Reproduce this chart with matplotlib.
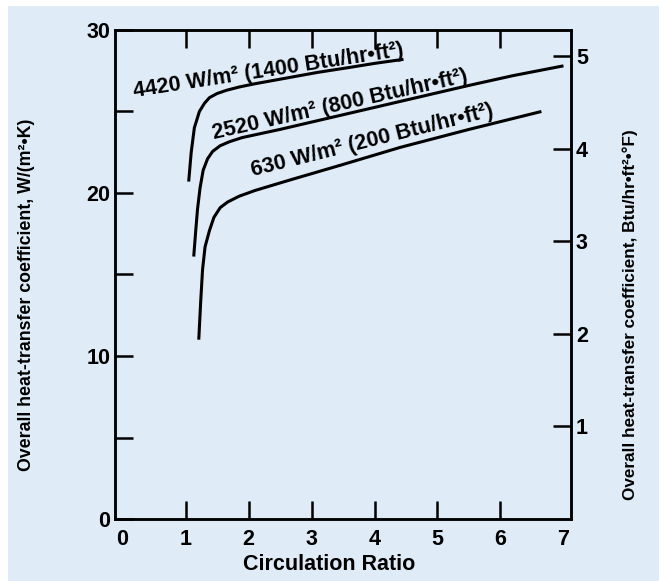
import matplotlib.pyplot as plt
from matplotlib.patches import Rectangle

# Circulation ratio vs overall heat-transfer coefficient, W/(m2 K)
x_4420 = [1.05, 1.09, 1.14, 1.22, 1.30, 1.38, 1.50, 1.65, 1.85, 2.10, 2.60, 3.10, 3.60, 4.00, 4.46]
y_4420 = [20.7, 22.5, 24.0, 25.0, 25.5, 25.85, 26.1, 26.3, 26.5, 26.7, 27.05, 27.4, 27.7, 27.95, 28.2]

x_2520 = [1.13, 1.16, 1.19, 1.23, 1.28, 1.35, 1.43, 1.55, 1.70, 1.90, 2.20, 2.50, 3.50, 4.50, 5.50, 6.20, 7.00]
y_2520 = [16.1, 17.6, 19.0, 20.3, 21.4, 22.1, 22.55, 22.9, 23.15, 23.4, 23.65, 23.9, 24.8, 25.7, 26.6, 27.2, 27.8]

x_630 = [1.21, 1.24, 1.27, 1.31, 1.38, 1.45, 1.55, 1.67, 1.85, 2.10, 2.66, 3.50, 4.41, 5.50, 6.65]
y_630 = [11.0, 13.3, 15.3, 16.7, 17.7, 18.5, 19.1, 19.45, 19.8, 20.15, 20.8, 21.75, 22.8, 23.9, 25.0]

curve_labels = ["4420 W/m\u00b2 (1400 Btu/hr\u2022ft\u00b2)",
                "2520 W/m\u00b2 (800 Btu/hr\u2022ft\u00b2)",
                "630 W/m\u00b2 (200 Btu/hr\u2022ft\u00b2)"]

x_ticks = [0, 1, 2, 3, 4, 5, 6, 7]
y_ticks_si = [0, 5, 10, 15, 20, 25, 30]
y_ticks_si_labels = ["0", "", "10", "", "20", "", "30"]
y_ticks_btu = [1, 2, 3, 4, 5]
W_PER_BTU = 5.678

bg = "#dfecf8"
plt.rcParams["font.family"] = ["Liberation Sans", "DejaVu Sans"]
plt.rcParams["font.weight"] = "bold"

fig = plt.figure(figsize=(6.59, 5.81), dpi=100)
fig.patches.append(Rectangle((8 / 659, 0), 1, 1 - 6 / 581, transform=fig.transFigure,
                             facecolor=bg, edgecolor="none", zorder=-10))
ax = fig.add_axes([0.1745, 0.1067, 0.6920, 0.8417])
ax.set_facecolor("none")

for xs, ys in [(x_4420, y_4420), (x_2520, y_2520), (x_630, y_630)]:
    ax.plot(xs, ys, color="black", linewidth=2.2, solid_capstyle="butt")

ax.set_xlim(-0.12, 7.12)
ax.set_ylim(0, 30)
ax.set_xticks(x_ticks)
ax.set_xticklabels([str(t) for t in x_ticks], fontsize=15.5, fontweight="bold")
ax.set_yticks(y_ticks_si)
ax.set_yticklabels(y_ticks_si_labels, fontsize=15.5, fontweight="bold")
ax.tick_params(axis="x", direction="in", length=13, width=1.8, top=True, pad=7)
ax.tick_params(axis="y", direction="in", length=13, width=1.8, pad=3.5)
# 0 and 7 sit on the spines, hide their tick marks
for i in (0, len(x_ticks) - 1):
    ax.xaxis.get_major_ticks()[i].tick1line.set_visible(False)
    ax.xaxis.get_major_ticks()[i].tick2line.set_visible(False)
ax.yaxis.get_major_ticks()[0].tick1line.set_visible(False)
ax.yaxis.get_major_ticks()[-1].tick1line.set_visible(False)
for s in ax.spines.values():
    s.set_linewidth(1.8)

ax.set_xlabel("Circulation Ratio", fontsize=15.5, fontweight="bold")
ax.xaxis.set_label_coords(0.47, -0.072)
ax.set_ylabel("Overall heat-transfer coefficient, W/(m\u00b2\u2022K)", fontsize=12.8, fontweight="bold")
ax.yaxis.set_label_coords(-0.175, 0.458)

ax2 = ax.twinx()
ax2.set_ylim(0, 30 / W_PER_BTU)
ax2.set_yticks(y_ticks_btu)
ax2.set_yticklabels([str(t) for t in y_ticks_btu], fontsize=15.5, fontweight="bold")
ax2.tick_params(axis="y", direction="in", length=13, width=1.8, pad=3.5)
for s in ax2.spines.values():
    s.set_linewidth(1.8)
ax2.set_ylabel("Overall heat-transfer coefficient, Btu/hr\u2022ft\u00b2\u2022\u00b0F)", fontsize=12.3,
               fontweight="bold")
ax2.yaxis.set_label_coords(1.112, 0.417)

# curve labels
ax.text(2.32, 27.5, curve_labels[0], rotation=8.7, rotation_mode="anchor", ha="center", va="center",
        fontsize=15.5, fontweight="bold")
ax.text(3.46, 25.4, curve_labels[1], rotation=12.7, rotation_mode="anchor", ha="center", va="center",
        fontsize=15.5, fontweight="bold")
ax.text(3.97, 23.2, curve_labels[2], rotation=14, rotation_mode="anchor", ha="center", va="center",
        fontsize=15.5, fontweight="bold")

fig.savefig("out.png", dpi=100)
